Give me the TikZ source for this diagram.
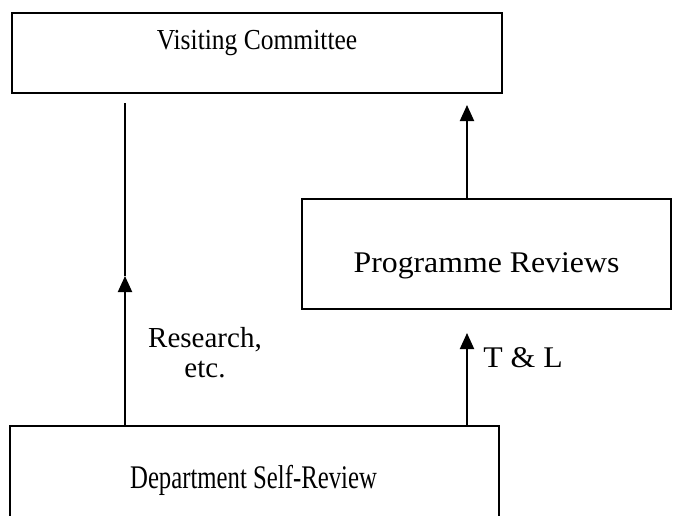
\documentclass[tikz,border=0pt]{standalone}
\usepackage{fontspec}
\setmainfont{Liberation Serif}
\newfontfamily\vcfont[FakeStretch=0.88]{Liberation Serif}
\newfontfamily\dsrfont[FakeStretch=0.75]{Liberation Serif}
\newfontfamily\widefont[FakeStretch=1.06]{Liberation Serif}
\usetikzlibrary{arrows.meta}
\tikzset{
  boxnode/.style={draw, line width=1.8pt, inner sep=0pt, rectangle},
  flow/.style={line width=2pt, -{Triangle[length=16pt,width=14pt]}},
  plain/.style={line width=2pt},
  lbl/.style={font=\widefont\fontsize{30}{32}\selectfont, inner sep=0pt},
  vclbl/.style={font=\vcfont\fontsize{29}{32}\selectfont, inner sep=0pt},
  dsrlbl/.style={font=\dsrfont\fontsize{33}{36}\selectfont, inner sep=0pt}
}
\begin{document}
\begin{tikzpicture}[x=1pt,y=-1pt]
\useasboundingbox (0,0) rectangle (673,515);
\clip (0,0) rectangle (673,515);
% boxes
\node[boxnode, minimum width=490pt, minimum height=80pt,
      label={[vclbl, yshift=10pt]center:Visiting Committee}] (vc) at (257,53) {};
\node[boxnode, minimum width=369pt, minimum height=110pt,
      label={[lbl, yshift=-12pt]center:Programme Reviews}] (pr) at (486.5,254) {};
\node[boxnode, minimum width=489pt, minimum height=140pt,
      label={[dsrlbl, yshift=-71pt, xshift=-1pt]north:Department Self-Review}] (dsr) at (254.5,496) {};
% connectors
\coordinate (lmid) at (125,276);
\coordinate (ltop) at (125,103);
\coordinate (rtop) at (467,105);
\coordinate (tltip) at (467,333);
\draw[flow] (dsr.north -| lmid) -- (lmid);
\draw[plain] (lmid) -- (ltop);
\draw[flow] (pr.north -| rtop) -- (rtop);
\draw[flow] (dsr.north -| tltip) -- (tltip);
% labels
\node[inner sep=0pt, align=center, font=\fontsize{29}{30}\selectfont] (res) at (205,353) {Research,\\etc.};
\node[lbl] (tl) at (523,358) {T \& L};
\end{tikzpicture}
\end{document}
